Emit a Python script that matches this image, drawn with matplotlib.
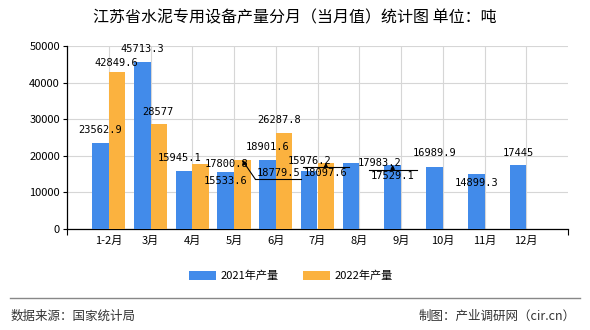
"""Jiangsu cement equipment output by month, 2021 vs 2022."""

import matplotlib

matplotlib.use("Agg")
import matplotlib.pyplot as plt
import numpy as np
from matplotlib.lines import Line2D

plt.rcParams["font.family"] = ["Noto Sans CJK SC", "DejaVu Sans"]

MONTHS = ["1-2月", "3月", "4月", "5月", "6月", "7月", "8月", "9月", "10月", "11月", "12月"]
OUTPUT_2021 = [23562.9, 45713.3, 15945.1, 15533.6, 18901.6, 15976.2,
               17983.2, 17529.1, 16989.9, 14899.3, 17445]
OUTPUT_2022 = [42849.6, 28577, 17800.8, 18779.5, 26287.8, 18097.6]
LABELS_2021 = ["23562.9", "45713.3", "15945.1", "15533.6", "18901.6", "15976.2",
               "17983.2", "17529.1", "16989.9", "14899.3", "17445"]
LABELS_2022 = ["42849.6", "28577", "17800.8", "18779.5", "26287.8", "18097.6"]

# label placement relative to bar top, in pixels (dx, dy up)
OFFSETS_2021 = [(0, 13), (0, 13), (-4, 13), (0, -9), (0, 13), (0, 10),
                (29, 0), (0, -11), (0, 14), (0, -9), (0, 12)]
OFFSETS_2022 = [(-1, 9), (-1, 12), (26, 0), (36, -13), (-5, 13), (0, -10)]

BLUE = "#428bea"
ORANGE = "#fbb23f"
BAR_W = 0.4

fig = plt.figure(figsize=(5.9, 3.3), dpi=100)
ax = fig.add_axes([67 / 590, 1 - 229 / 330, 501 / 590, 183 / 330])

x = np.arange(len(MONTHS))
x22 = np.arange(len(OUTPUT_2022))
bars21 = ax.bar(x - BAR_W / 2, OUTPUT_2021, width=BAR_W, color=BLUE, label="2021年产量", zorder=3)
bars22 = ax.bar(x22 + BAR_W / 2, OUTPUT_2022, width=BAR_W, color=ORANGE, label="2022年产量", zorder=3)

ax.set_xlim(-1, 11)
ax.set_ylim(0, 50000)
ax.set_yticks(np.arange(0, 50001, 10000))
ax.set_xticks(x)
ax.set_xticklabels(MONTHS, fontsize=8)
ax.set_xticks(np.arange(-1, 12, 2), minor=True)
ax.tick_params(axis="x", which="major", length=0, pad=5)
ax.tick_params(axis="x", which="minor", length=4, width=0.8)
ax.tick_params(axis="y", labelsize=8, length=3, width=0.8, pad=2)
ax.grid(True, color="#d6d6d6", linewidth=0.8, zorder=0)
for side in ("top", "right"):
    ax.spines[side].set_visible(False)
for side in ("left", "bottom"):
    ax.spines[side].set_linewidth(0.9)

# pixel -> data scale
p0 = ax.transData.transform((0, 0))
p1 = ax.transData.transform((1, 10000))
sx = p1[0] - p0[0]
sy = (p1[1] - p0[1]) / 10000


def put_labels(bars, labels, offsets):
    for bar, text, (dx, dy) in zip(bars, labels, offsets):
        bx = bar.get_x() + bar.get_width() / 2
        by = bar.get_height()
        ax.text(bx + dx / sx, by + dy / sy, text, ha="center", va="center",
                fontsize=7.5, family=["DejaVu Sans Mono", "DejaVu Sans"], zorder=5)


put_labels(bars21, LABELS_2021, OFFSETS_2021)
put_labels(bars22, LABELS_2022, OFFSETS_2022)


def flat_leader(bar, half_px, drop_px):
    bx = bar.get_x() + bar.get_width() / 2
    by = bar.get_height()
    ly = by - drop_px / sy
    ax.add_line(Line2D([bx - half_px / sx, bx + half_px / sx], [ly, ly],
                       color="black", linewidth=0.8, zorder=6))
    ax.annotate("", xy=(bx, by), xytext=(bx, ly),
                arrowprops=dict(arrowstyle="-|>", color="black", lw=0.8,
                                mutation_scale=6, shrinkA=0, shrinkB=0), zorder=6)


# bent leader for the May 2022 label
may = bars22[3]
mx = may.get_x() + may.get_width() / 2
my = may.get_height()
ex, ey = mx + 13 / sx, my - 19 / sy
ax.add_line(Line2D([ex, ex + 46 / sx], [ey, ey], color="black", linewidth=0.8, zorder=6))
ax.annotate("", xy=(mx, my), xytext=(ex, ey),
            arrowprops=dict(arrowstyle="-|>", color="black", lw=0.8,
                            mutation_scale=6, shrinkA=0, shrinkB=0), zorder=6)
flat_leader(bars22[5], 23, 4)
flat_leader(bars21[7], 24, 5)

fig.text(0.5, 1 - 18 / 330, "江苏省水泥专用设备产量分月（当月值）统计图 单位：吨",
         ha="center", va="center", fontsize=11.5)
fig.legend(handles=[bars21, bars22], loc="center", bbox_to_anchor=(0.493, 1 - 276 / 330),
           ncol=2, frameon=False, fontsize=8, handlelength=2.4, handleheight=0.9,
           columnspacing=2.2, handletextpad=0.4)
fig.add_artist(Line2D([10 / 590, 580 / 590], [1 - 298 / 330] * 2, color="#888888", linewidth=1))
fig.text(11 / 590, 1 - 316 / 330, "数据来源：国家统计局", ha="left", va="center", fontsize=9, color="#333333")
fig.text(576 / 590, 1 - 316 / 330, "制图：产业调研网（cir.cn）", ha="right", va="center", fontsize=9, color="#333333")

fig.savefig("out.png", dpi=100)
